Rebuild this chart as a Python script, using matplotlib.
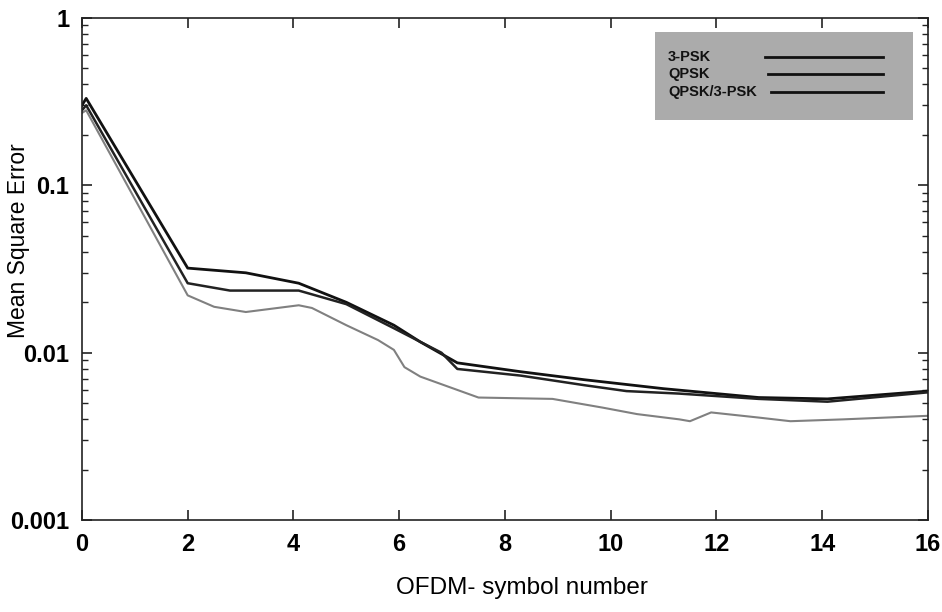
import matplotlib
matplotlib.use("Agg")
import matplotlib.pyplot as plt
from matplotlib.lines import Line2D
from matplotlib.patches import Rectangle
from matplotlib.ticker import FixedLocator, FixedFormatter, LogLocator, NullFormatter

plt.rcParams['font.family'] = ['Liberation Sans', 'DejaVu Sans']

# ---- data ----
series_labels = ["3-PSK", "QPSK", "QPSK/3-PSK"]

x_3psk = [0, 0.08, 2, 3.1, 4.1, 5.0, 5.9, 6.4, 7.1, 8.3, 9.5, 11.0, 12.8, 14.1, 16]
y_3psk = [0.30, 0.33, 0.032, 0.030, 0.026, 0.020, 0.0146, 0.0116, 0.0087, 0.0077,
          0.0069, 0.0061, 0.0054, 0.0053, 0.0059]

x_qpsk = [0, 0.08, 2, 2.8, 4.1, 5.0, 5.9, 6.8, 7.1, 8.3, 9.5, 10.3, 11.3, 12.8, 14.1, 16]
y_qpsk = [0.28, 0.30, 0.026, 0.0235, 0.0235, 0.0195, 0.0140, 0.0100, 0.0080, 0.0073,
          0.0064, 0.0059, 0.0057, 0.0053, 0.0051, 0.0058]

x_mix = [0, 0.08, 2, 2.5, 3.1, 3.7, 4.1, 4.35, 5.0, 5.6, 5.9, 6.1, 6.4, 7.5, 8.9, 9.85,
         10.5, 11.3, 11.5, 11.9, 12.8, 13.4, 14.4, 16]
y_mix = [0.27, 0.28, 0.022, 0.0188, 0.0175, 0.0185, 0.0192, 0.0185, 0.0146, 0.0119,
         0.0104, 0.0082, 0.0072, 0.0054, 0.0053, 0.0047, 0.0043, 0.0040, 0.0039,
         0.0044, 0.0041, 0.0039, 0.0040, 0.0042]

x_ticks = [0, 2, 4, 6, 8, 10, 12, 14, 16]
y_ticks = [0.001, 0.01, 0.1, 1]
y_tick_labels = ["0.001", "0.01", "0.1", "1"]

# ---- figure ----
fig = plt.figure(figsize=(9.42, 6.12), dpi=100)
ax = fig.add_axes([0.087, 0.150, 0.898, 0.821])

ax.plot(x_3psk, y_3psk, color="#111111", lw=2.0)
ax.plot(x_qpsk, y_qpsk, color="#222222", lw=1.8)
ax.plot(x_mix, y_mix, color="#808080", lw=1.5)

ax.set_yscale("log")
ax.set_xlim(0, 16)
ax.set_ylim(0.001, 1)

ax.xaxis.set_major_locator(FixedLocator(x_ticks))
ax.yaxis.set_major_locator(FixedLocator(y_ticks))
ax.yaxis.set_major_formatter(FixedFormatter(y_tick_labels))
ax.yaxis.set_minor_locator(LogLocator(base=10, subs=range(2, 10)))
ax.yaxis.set_minor_formatter(NullFormatter())

ax.tick_params(axis="both", which="both", direction="in", top=True, right=True,
               color="#222222")
ax.tick_params(axis="both", which="major", length=7, width=1.2, labelsize=17)
ax.tick_params(axis="y", which="minor", length=4, width=1.0)
ax.tick_params(axis="x", which="major", pad=9)
ax.tick_params(axis="y", which="major", pad=9)
for lab in ax.get_xticklabels() + ax.get_yticklabels():
    lab.set_fontweight("bold")

for sp in ax.spines.values():
    sp.set_linewidth(1.2)
    sp.set_color("#222222")

ax.set_xlabel("OFDM- symbol number", fontsize=17.5)
ax.set_ylabel("Mean Square Error", fontsize=16.5)
ax.xaxis.set_label_coords(0.52, -0.114)
ax.yaxis.set_label_coords(-0.062, 0.556)

# ---- legend (drawn like the original grey box) ----
ax.add_patch(Rectangle((0.677, 0.797), 0.305, 0.175, transform=ax.transAxes,
                       facecolor="#ababab", edgecolor="none", zorder=3))
label_y = [0.922, 0.889, 0.852]
line_x0 = [0.807, 0.811, 0.814]
for lab, yy, x0 in zip(series_labels, label_y, line_x0):
    ax.text(0.693, yy, lab, transform=ax.transAxes, fontsize=10.5, fontweight="bold",
            va="center", ha="left", color="#111111", zorder=4)
    ax.add_line(Line2D([x0, 0.947], [yy, yy], transform=ax.transAxes,
                       color="#111111", lw=2.0, zorder=4))

fig.savefig("out.png", dpi=100)
